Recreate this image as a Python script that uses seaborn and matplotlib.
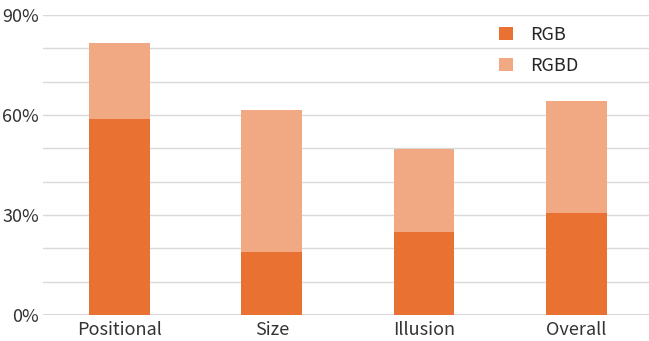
import matplotlib
matplotlib.use("Agg")
import matplotlib.pyplot as plt
import seaborn as sns
import pandas as pd
from matplotlib.patches import Patch
from matplotlib.ticker import FuncFormatter, MultipleLocator

categories = ["Positional", "Size", "Illusion", "Overall"]
rgb_values = [58.9, 18.9, 24.9, 30.7]
rgbd_values = [81.7, 61.4, 49.8, 64.3]
y_ticks = [0, 30, 60, 90]

dark = "#E97132"
light = "#F1A983"

sns.set_theme(style="white")
plt.rcParams["font.family"] = ["Noto Sans CJK SC", "DejaVu Sans"]

df = pd.DataFrame({"category": categories, "RGB": rgb_values, "RGBD": rgbd_values})

fig = plt.figure(figsize=(6.49, 3.41), dpi=100)
ax = fig.add_axes([43.4 / 649, 26 / 341, 609 / 649, 300 / 341])

sns.barplot(data=df, x="category", y="RGBD", color=light, width=0.4,
            saturation=1, ax=ax, edgecolor="none", zorder=3)
sns.barplot(data=df, x="category", y="RGB", color=dark, width=0.4,
            saturation=1, ax=ax, edgecolor="none", zorder=4)

ax.set_xlim(-0.5, 3.5)
ax.set_ylim(0, 90)
ax.yaxis.set_major_locator(MultipleLocator(10))
ax.yaxis.set_major_formatter(FuncFormatter(lambda v, p: f"{int(round(v))}%" if int(round(v)) in y_ticks else ""))
ax.grid(axis="y", color="#d9d9d9", linewidth=1.0, zorder=0)
ax.axhline(0, color="#d0d0d0", linewidth=1.2, zorder=1)
ax.set_axisbelow(True)
for s in ax.spines.values():
    s.set_visible(False)
ax.set_xlabel("")
ax.set_ylabel("")
ax.tick_params(axis="y", length=0, pad=3, labelsize=13, labelcolor="#333333")
ax.tick_params(axis="x", length=0, pad=4.5, labelsize=13, labelcolor="#333333")

handles = [Patch(facecolor=dark, edgecolor="none"), Patch(facecolor=light, edgecolor="none")]
fig.legend(handles, ["RGB", "RGBD"], loc="upper left",
           bbox_to_anchor=(499 / 649, 1 - 26 / 341), bbox_transform=fig.transFigure,
           frameon=False, fontsize=13, handlelength=0.75, handleheight=0.75,
           handletextpad=1.0, labelspacing=0.7, borderpad=0, borderaxespad=0,
           labelcolor="#262626")

fig.savefig("out.png", dpi=100)
